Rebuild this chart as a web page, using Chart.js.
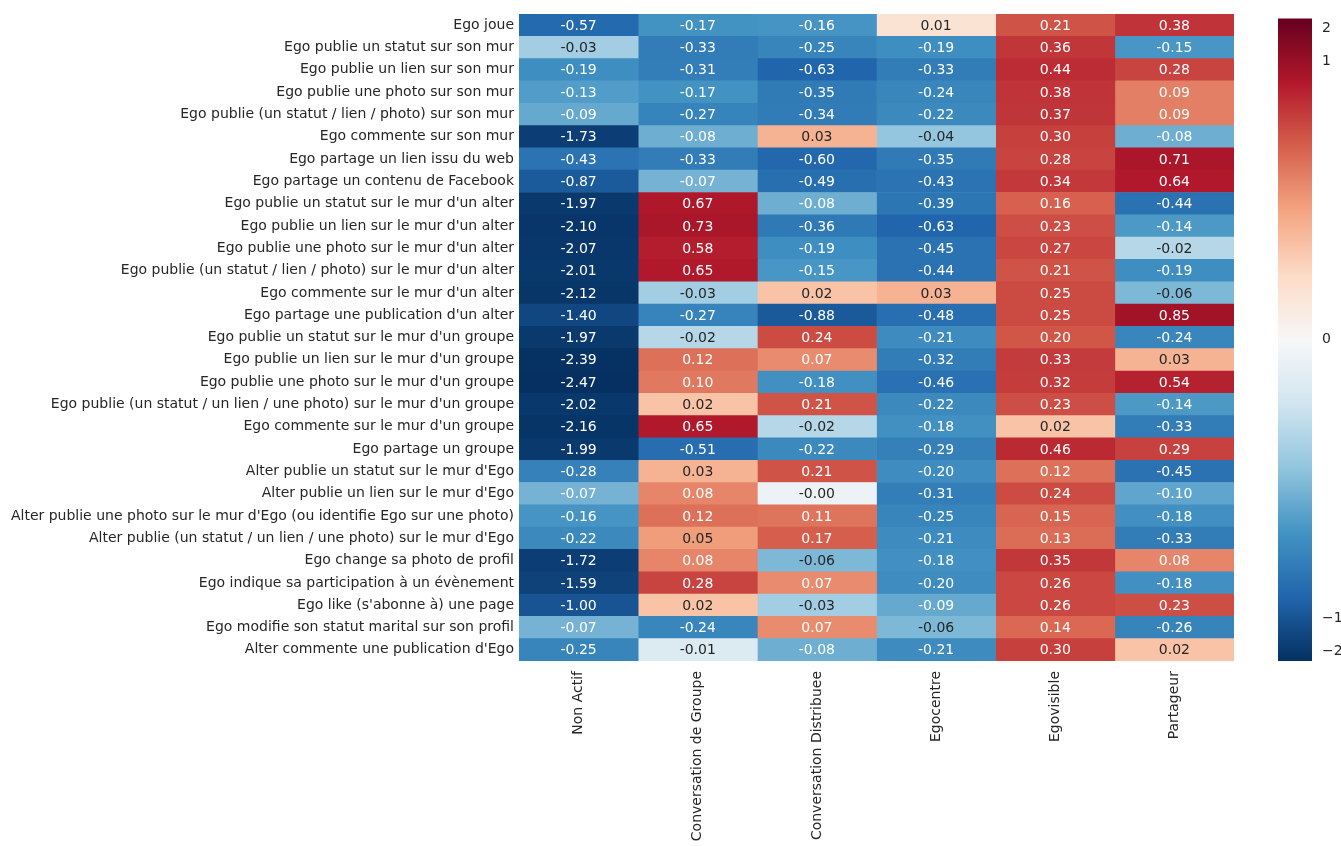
<!DOCTYPE html>
<html>
<head>
<meta charset="utf-8">
<script src="https://cdn.jsdelivr.net/npm/chart.js@4/dist/chart.umd.min.js"></script>
<style>
  html, body { margin: 0; padding: 0; background: #ffffff; }
  #wrap { position: relative; width: 1341px; height: 846px; }
  #main { position: absolute; left: 0; top: 0; }
  #cbar { position: absolute; left: 1270px; top: 0; }
</style>
</head>
<body>
<div id="wrap">
  <canvas id="main" width="1341" height="846"></canvas>
  <canvas id="cbar" width="71" height="846"></canvas>
</div>
<script>
// ---------- DATA ----------
const rows = [
  "Ego joue",
  "Ego publie un statut sur son mur",
  "Ego publie un lien sur son mur",
  "Ego publie une photo sur son mur",
  "Ego publie (un statut / lien / photo) sur son mur",
  "Ego commente sur son mur",
  "Ego partage un lien issu du web",
  "Ego partage un contenu de Facebook",
  "Ego publie un statut sur le mur d'un alter",
  "Ego publie un lien sur le mur d'un alter",
  "Ego publie une photo sur le mur d'un alter",
  "Ego publie (un statut / lien / photo) sur le mur d'un alter",
  "Ego commente sur le mur d'un alter",
  "Ego partage une publication d'un alter",
  "Ego publie un statut sur le mur d'un groupe",
  "Ego publie un lien sur le mur d'un groupe",
  "Ego publie une photo sur le mur d'un groupe",
  "Ego publie (un statut / un lien / une photo) sur le mur d'un groupe",
  "Ego commente sur le mur d'un groupe",
  "Ego partage un groupe",
  "Alter publie un statut sur le mur d'Ego",
  "Alter publie un lien sur le mur d'Ego",
  "Alter publie une photo sur le mur d'Ego (ou identifie Ego sur une photo)",
  "Alter publie (un statut / un lien / une photo) sur le mur d'Ego",
  "Ego change sa photo de profil",
  "Ego indique sa participation à un évènement",
  "Ego like (s'abonne à) une page",
  "Ego modifie son statut marital sur son profil",
  "Alter commente une publication d'Ego"
];
const cols = ["Non Actif", "Conversation de Groupe", "Conversation Distribuee", "Egocentre", "Egovisible", "Partageur"];

const nonActif       = [-0.57,-0.03,-0.19,-0.13,-0.09,-1.73,-0.43,-0.87,-1.97,-2.10,-2.07,-2.01,-2.12,-1.40,-1.97,-2.39,-2.47,-2.02,-2.16,-1.99,-0.28,-0.07,-0.16,-0.22,-1.72,-1.59,-1.00,-0.07,-0.25];
const convGroupe     = [-0.17,-0.33,-0.31,-0.17,-0.27,-0.08,-0.33,-0.07, 0.67, 0.73, 0.58, 0.65,-0.03,-0.27,-0.02, 0.12, 0.10, 0.02, 0.65,-0.51, 0.03, 0.08, 0.12, 0.05, 0.08, 0.28, 0.02,-0.24,-0.01];
const convDistribuee = [-0.16,-0.25,-0.63,-0.35,-0.34, 0.03,-0.60,-0.49,-0.08,-0.36,-0.19,-0.15, 0.02,-0.88, 0.24, 0.07,-0.18, 0.21,-0.02,-0.22, 0.21,-0.004, 0.11, 0.17,-0.06, 0.07,-0.03, 0.07,-0.08];
const egocentre      = [ 0.01,-0.19,-0.33,-0.24,-0.22,-0.04,-0.35,-0.43,-0.39,-0.63,-0.45,-0.44, 0.03,-0.48,-0.21,-0.32,-0.46,-0.22,-0.18,-0.29,-0.20,-0.31,-0.25,-0.21,-0.18,-0.20,-0.09,-0.06,-0.21];
const egovisible     = [ 0.21, 0.36, 0.44, 0.38, 0.37, 0.30, 0.28, 0.34, 0.16, 0.23, 0.27, 0.21, 0.25, 0.25, 0.20, 0.33, 0.32, 0.23, 0.02, 0.46, 0.12, 0.24, 0.15, 0.13, 0.35, 0.26, 0.26, 0.14, 0.30];
const partageur      = [ 0.38,-0.15, 0.28, 0.09, 0.09,-0.08, 0.71, 0.64,-0.44,-0.14,-0.02,-0.19,-0.06, 0.85,-0.24, 0.03, 0.54,-0.14,-0.33, 0.29,-0.45,-0.10,-0.18,-0.33, 0.08,-0.18, 0.23,-0.26, 0.02];

const colorbarTicks = [2, 1, 0, -1, -2];

// ---------- COLOR MAPPING (RdBu_r, symmetric log norm) ----------
const valueCols = [nonActif, convGroupe, convDistribuee, egocentre, egovisible, partageur];
const RDBU_R = [[5,48,97],[33,102,172],[67,147,195],[146,197,222],[209,229,240],[247,247,247],[253,219,199],[244,165,130],[214,96,77],[178,24,43],[103,0,31]];
const LIN_T = 0.02, LIN_S = 0.851;
function tf(x) {
  const a = Math.abs(x);
  const v = a <= LIN_T ? (a / LIN_T) * LIN_S : LIN_S + Math.log10(a / LIN_T);
  return Math.sign(x) * v;
}
function itf(t) {
  const a = Math.abs(t);
  const v = a <= LIN_S ? (a / LIN_S) * LIN_T : LIN_T * Math.pow(10, a - LIN_S);
  return Math.sign(t) * v;
}
const vAbsMax = Math.max(...valueCols.flat().map(Math.abs));
const tMax = tf(vAbsMax);
function cmap(p) {
  p = Math.min(1, Math.max(0, p));
  const s = p * 10;
  const i = Math.min(9, Math.floor(s));
  const f = s - i;
  const a = RDBU_R[i], b = RDBU_R[i + 1];
  return [0, 1, 2].map(k => a[k] + (b[k] - a[k]) * f);
}
function rgbOf(v) { return cmap(0.5 + tf(v) / (2 * tMax)); }
function cssOf(c) { return `rgb(${Math.round(c[0])},${Math.round(c[1])},${Math.round(c[2])})`; }
function colorFor(v) { return cssOf(rgbOf(v)); }
function textColorFor(v) {
  const c = rgbOf(v).map(x => {
    x /= 255;
    return x <= 0.03928 ? x / 12.92 : Math.pow((x + 0.055) / 1.055, 2.4);
  });
  const lum = 0.2126 * c[0] + 0.7152 * c[1] + 0.0722 * c[2];
  return lum > 0.408 ? '#262626' : '#ffffff';
}

const FONT = { family: '"DejaVu Sans", sans-serif', size: 14 };
const TXT = '#262626';

// ---------- ANNOTATIONS ----------
const annotate = {
  id: 'annotate',
  afterDatasetsDraw(chart) {
    const { ctx, scales: { x, y } } = chart;
    ctx.save();
    ctx.font = '14px "DejaVu Sans", sans-serif';
    ctx.textAlign = 'center';
    ctx.textBaseline = 'middle';
    valueCols.forEach((vals, j) => vals.forEach((v, i) => {
      ctx.fillStyle = textColorFor(v);
      ctx.fillText(v.toFixed(2), x.getPixelForValue(j + 0.5), y.getPixelForValue(i) + 1);
    }));
    ctx.restore();
  }
};

// ---------- MAIN HEATMAP ----------
new Chart(document.getElementById('main'), {
  type: 'bar',
  data: {
    labels: rows,
    datasets: valueCols.map((vals, j) => ({
      label: cols[j],
      data: vals.map(() => [j, j + 1]),
      backgroundColor: vals.map(colorFor),
      borderWidth: 0,
      barPercentage: 1,
      categoryPercentage: 1,
      grouped: false
    }))
  },
  options: {
    indexAxis: 'y',
    responsive: false,
    animation: false,
    events: [],
    layout: { padding: { top: 14, right: 107, bottom: 0, left: 0 } },
    plugins: { legend: { display: false }, tooltip: { enabled: false } },
    scales: {
      x: { type: 'linear', min: 0, max: 6, display: false },
      x2: {
        type: 'category', labels: cols, position: 'bottom', offset: true,
        grid: { display: false, drawTicks: false }, border: { display: false },
        ticks: { minRotation: 90, maxRotation: 90, autoSkip: false, padding: 10, color: TXT, font: FONT },
        afterFit(s) { s.height = 185; }
      },
      y: {
        type: 'category', offset: true,
        grid: { display: false, drawTicks: false }, border: { display: false },
        ticks: { autoSkip: false, padding: 5, color: TXT, font: FONT },
        afterFit(s) { s.width = 519; }
      }
    }
  },
  plugins: [annotate]
});

// ---------- COLORBAR ----------
new Chart(document.getElementById('cbar'), {
  type: 'bar',
  data: {
    labels: [''],
    datasets: [{
      data: [[-tMax, tMax]],
      backgroundColor(ctx) {
        const ca = ctx.chart.chartArea;
        if (!ca) return '#ffffff';
        const g = ctx.chart.ctx.createLinearGradient(0, ca.bottom, 0, ca.top);
        RDBU_R.forEach((c, k) => g.addColorStop(k / 10, cssOf(c)));
        return g;
      },
      borderWidth: 0,
      barPercentage: 1,
      categoryPercentage: 1
    }]
  },
  options: {
    responsive: false,
    animation: false,
    events: [],
    layout: { padding: { top: 12, right: 0, bottom: 185, left: 8 } },
    plugins: { legend: { display: false }, tooltip: { enabled: false } },
    scales: {
      x: { display: false },
      y: {
        position: 'right', min: -tMax, max: tMax,
        grid: { display: false, drawTicks: false }, border: { display: false },
        afterBuildTicks(s) { s.ticks = colorbarTicks.slice().sort((a, b) => a - b).map(v => ({ value: tf(v) })); },
        ticks: {
          padding: 10, color: TXT, font: FONT,
          callback(val) { const n = Math.round(itf(val)); return n < 0 ? '\u2212' + Math.abs(n) : String(n); }
        },
        afterFit(s) { s.width = 29; }
      }
    }
  }
});
</script>
</body>
</html>
